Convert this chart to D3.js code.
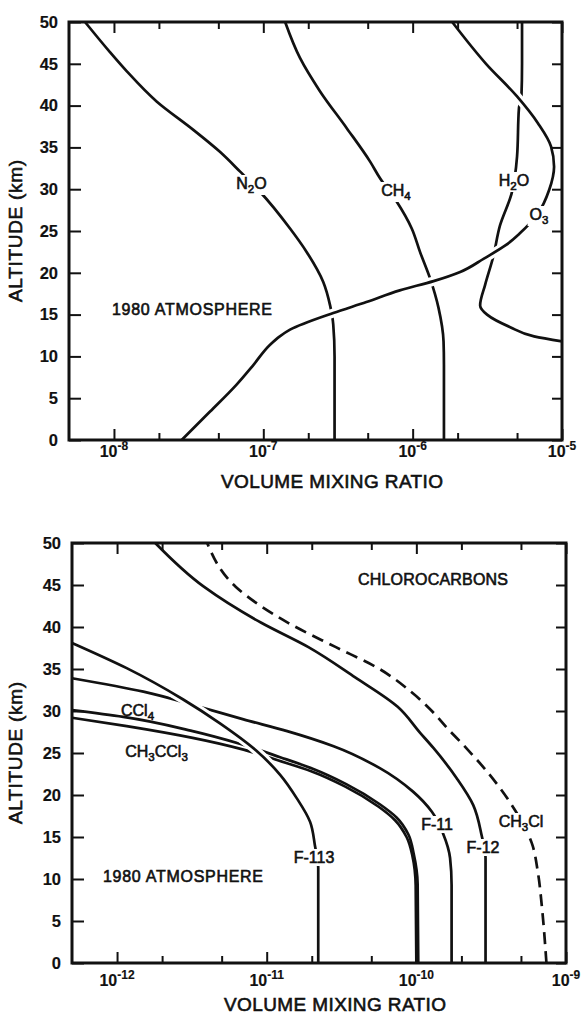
<!DOCTYPE html>
<html>
<head>
<meta charset="utf-8">
<script src="https://cdn.jsdelivr.net/npm/d3@7"></script>
<style>
  body { margin: 0; background: #fff; }
  svg text { font-family: "Liberation Sans", Arial, sans-serif; fill: #111; stroke: #111; stroke-width: 0.6; }
  svg .tick text, svg .xl { font-weight: bold; stroke-width: 0.15; }
</style>
</head>
<body>
<svg id="chart" width="584" height="1015"></svg>
<script>
// altitude ticks (km) and log tick positions
const altTicks = [0, 5, 10, 15, 20, 25, 30, 35, 40, 45, 50]
const topMajor = [1e-8, 1e-7, 1e-6, 1e-5]
const topMinor = [2e-8, 5e-8, 2e-7, 5e-7, 2e-6, 5e-6]
const botMajor = [1e-12, 1e-11, 1e-10, 1e-9]
const botMinor = [2e-12, 5e-12, 2e-11, 5e-11, 2e-10, 5e-10]

// profiles, [altitude km, volume mixing ratio]
const n2o = [[0, 3.0e-7], [10, 3.0e-7], [13.8, 2.94e-7], [16.1, 2.8e-7], [18.9, 2.52e-7], [22.5, 1.95e-7],
  [25.3, 1.51e-7], [29.7, 9.5e-8], [32.1, 7.0e-8], [34.5, 5.1e-8], [37.1, 3.4e-8], [40.5, 1.93e-8],
  [44.1, 1.22e-8], [46.4, 9.4e-9], [50, 6.4e-9]]
const ch4 = [[0, 1.62e-6], [9, 1.62e-6], [11.8, 1.61e-6], [15.8, 1.49e-6], [19.3, 1.31e-6], [22.5, 1.12e-6],
  [25.3, 9.86e-7], [28.5, 7.83e-7], [31.3, 6.05e-7], [33.3, 5.19e-7], [37.3, 3.62e-7], [41.7, 2.4e-7],
  [45.7, 1.76e-7], [50, 1.4e-7]]
const h2o = [[11.8, 1.0e-5], [12.4, 6.5e-6], [13.5, 4.5e-6], [15, 3.15e-6], [16.1, 2.83e-6], [18.5, 3.05e-6],
  [21.8, 3.45e-6], [25.7, 3.85e-6], [29.5, 4.6e-6], [33.9, 5.0e-6], [39.7, 5.15e-6], [41, 5.35e-6],
  [45, 5.4e-6], [50, 5.4e-6]]
const o3 = [[0, 2.84e-8], [3.4, 4.4e-8], [6.6, 6.6e-8], [9, 8.6e-8], [11.4, 1.11e-7], [12.4, 1.29e-7],
  [13.2, 1.51e-7], [15.2, 2.94e-7], [16.5, 4.9e-7], [17.9, 8.2e-7], [19, 1.38e-6], [20.1, 2.08e-6],
  [21.7, 3.0e-6], [23.3, 4.2e-6], [24.7, 5.2e-6], [27.1, 6.9e-6], [29.9, 8.2e-6], [32.7, 8.85e-6],
  [35.1, 8.45e-6], [37.9, 6.9e-6], [41.1, 5.0e-6], [45, 3.1e-6], [50, 1.84e-6]]

const f12 = [[0, 2.9e-10], [12.5, 2.9e-10], [15.2, 2.73e-10], [18.8, 2.4e-10], [22, 1.86e-10], [25.6, 1.3e-10],
  [27.4, 1.06e-10], [30.5, 7.5e-11], [34, 3.9e-11], [37.6, 1.9e-11], [40.5, 9.2e-12], [44.8, 3.8e-12],
  [50, 1.8e-12]]
const ch3cl = [[0, 7.4e-10], [6.7, 6.9e-10], [10.7, 6.5e-10], [14.3, 5.9e-10], [17, 5.0e-10], [19.2, 4.2e-10],
  [22.5, 3.06e-10], [26, 2.05e-10], [28, 1.6e-10], [30, 1.27e-10], [32.3, 9.2e-11], [35.1, 5.55e-11],
  [37.6, 2.9e-11], [40.5, 1.39e-11], [44.8, 6.2e-12], [50, 4.0e-12]]
const f11 = [[0, 1.72e-10], [9.3, 1.72e-10], [12.5, 1.68e-10], [15.4, 1.51e-10], [18, 1.27e-10], [20.4, 9.5e-11],
  [23.2, 5.7e-11], [25.8, 2.8e-11], [27.6, 1.37e-11], [29, 7.0e-12], [30.6, 3.4e-12], [32.3, 1.5e-12],
  [33.9, 5.0e-13]]
const f113 = [[0, 2.21e-11], [11.3, 2.21e-11], [14, 2.1e-11], [16.8, 1.95e-11], [19.6, 1.59e-11], [22.4, 1.23e-11],
  [25.3, 8.5e-12], [28.5, 4.9e-12], [31.4, 2.75e-12], [35.1, 1.16e-12], [38.1, 5.0e-13]]
const ccl4 = [[0, 1.03e-10], [9.4, 1.02e-10], [13, 9.6e-11], [15.3, 8.85e-11], [17.3, 7.4e-11], [18.9, 5.7e-11],
  [21.3, 3.4e-11], [23.1, 2.05e-11], [24.5, 1.23e-11], [26.1, 6.6e-12], [27.6, 3.2e-12], [29.3, 1.1e-12],
  [30.1, 5.0e-13]]
const ch3ccl3 = [[0, 1.0e-10], [9.2, 9.9e-11], [12.8, 9.4e-11], [15, 8.6e-11], [17, 7.2e-11], [18.6, 5.6e-11],
  [21, 3.35e-11], [22.8, 2.0e-11], [24.1, 1.2e-11], [25.4, 7.0e-12], [26.8, 3.2e-12], [28.2, 1.16e-12],
  [29.2, 5.0e-13]]

const svg = d3.select('#chart')
const ink = '#111'

// write "CH_4" style strings, _n is a subscript digit
function chem(text, str, size) {
  let down = false
  str.split(/(_\d)/).filter(s => s).forEach(p => {
    if (p[0] === '_') {
      text.append('tspan').attr('dy', 4).attr('font-size', size * 0.72).text(p.slice(1))
      down = true
    } else {
      text.append('tspan').attr('dy', down ? -4 : 0).text(p)
      down = false
    }
  })
}

function panel({ x, y, major, minor, curves, over, labels, notes, title }) {
  const g = svg.append('g')
  const line = d3.line()
    .x(d => x(d[1]))
    .y(d => y(d[0]))
    .curve(d3.curveMonotoneY)

  g.selectAll('.curve')
    .data(curves)
    .join('path')
    .attr('class', 'curve')
    .attr('d', d => line(d.data))
    .attr('fill', 'none')
    .attr('stroke', ink)
    .attr('stroke-width', 2.7)
    .attr('stroke-dasharray', d => d.dash || null)

  // the crossing curve breaks the lines under it
  g.append('path').attr('d', line(over)).attr('fill', 'none').attr('stroke', '#fff').attr('stroke-width', 9)
  g.append('path').attr('d', line(over)).attr('fill', 'none').attr('stroke', ink).attr('stroke-width', 2.7)

  labels.forEach(l => {
    const lg = g.append('g')
    const r = lg.append('rect').attr('fill', '#fff')
    const t = lg.append('text')
      .attr('x', l.x).attr('y', l.y)
      .attr('text-anchor', 'middle')
      .attr('font-size', 16)
    chem(t, l.text, 16)
    if (l.cut) {
      const bb = t.node().getBBox()
      r.attr('x', bb.x - 2).attr('y', bb.y).attr('width', bb.width + 4).attr('height', bb.height)
    }
  })

  notes.forEach(n => {
    g.append('text')
      .attr('x', n.x).attr('y', n.y)
      .attr('font-size', 16)
      .attr('textLength', n.w)
      .text(n.text)
  })

  const [x0, x1] = x.range()
  const [y0, y1] = y.range()

  // ticks, all pointing into the frame
  g.append('g').attr('transform', `translate(0,${y0})`)
    .call(d3.axisBottom(x).tickValues(major).tickSize(-11).tickFormat(''))
  g.append('g').attr('transform', `translate(0,${y0})`)
    .call(d3.axisBottom(x).tickValues(minor).tickSize(-7).tickFormat(''))
  g.append('g').attr('transform', `translate(0,${y1})`)
    .call(d3.axisTop(x).tickValues(major).tickSize(-11).tickFormat(''))
  g.append('g').attr('transform', `translate(0,${y1})`)
    .call(d3.axisTop(x).tickValues(minor).tickSize(-7).tickFormat(''))
  g.append('g').attr('transform', `translate(${x1},0)`)
    .call(d3.axisRight(y).tickValues(altTicks).tickSize(-10).tickFormat(''))
  const yl = g.append('g').attr('transform', `translate(${x0},0)`)
    .call(d3.axisLeft(y).tickValues(altTicks).tickSize(-12).tickPadding(11))
  yl.selectAll('text').attr('font-size', 16.5).attr('fill', ink).style('font-family', null)

  g.selectAll('.domain').remove()
  g.selectAll('.tick line').attr('stroke', ink).attr('stroke-width', 2)

  g.append('rect')
    .attr('x', x0).attr('y', y1)
    .attr('width', x1 - x0).attr('height', y0 - y1)
    .attr('fill', 'none').attr('stroke', ink).attr('stroke-width', 3)

  // x tick labels 10^n
  g.selectAll('.xl')
    .data(major)
    .join('text')
    .attr('class', 'xl')
    .attr('x', d => x(d))
    .attr('y', y0 + title.dy)
    .attr('text-anchor', 'middle')
    .attr('font-size', 16)
    .each(function(d) {
      const t = d3.select(this)
      t.append('tspan').text('10')
      t.append('tspan').attr('dy', -7).attr('font-size', 12).text(Math.round(Math.log10(d)))
    })

  g.append('text')
    .attr('x', title.x).attr('y', title.y)
    .attr('text-anchor', 'middle')
    .attr('font-size', 19)
    .attr('textLength', 222)
    .text('VOLUME MIXING RATIO')

  g.append('text')
    .attr('transform', `translate(15,${(y0 + y1) / 2}) rotate(-90)`)
    .attr('text-anchor', 'middle')
    .attr('dominant-baseline', 'central')
    .attr('font-size', 19)
    .attr('textLength', 142)
    .text('ALTITUDE (km)')
}

panel({
  x: d3.scaleLog().domain([5e-9, 1e-5]).range([69, 562]),
  y: d3.scaleLinear().domain([0, 50]).range([440, 22]),
  major: topMajor,
  minor: topMinor,
  curves: [{ data: n2o }, { data: ch4 }, { data: h2o }],
  over: o3,
  labels: [
    { text: 'N_2O', x: 251.5, y: 189, cut: true },
    { text: 'CH_4', x: 396, y: 196, cut: true },
    { text: 'H_2O', x: 514, y: 186, cut: true },
    { text: 'O_3', x: 539, y: 220, cut: true }
  ],
  notes: [{ text: '1980 ATMOSPHERE', x: 112, y: 315, w: 160 }],
  title: { x: 332, y: 488, dy: 17 }
})

panel({
  x: d3.scaleLog().domain([5e-13, 1e-9]).range([72, 566]),
  y: d3.scaleLinear().domain([0, 50]).range([963, 543]),
  major: botMajor,
  minor: botMinor,
  curves: [
    { data: f12 }, { data: ch3cl, dash: '12,7' }, { data: f11 },
    { data: ccl4 }, { data: ch3ccl3 }
  ],
  over: f113,
  labels: [
    { text: 'CCl_4', x: 137.5, y: 716, cut: false },
    { text: 'CH_3CCl_3', x: 156.5, y: 757, cut: false },
    { text: 'F-113', x: 314, y: 863, cut: true },
    { text: 'F-11', x: 437, y: 830, cut: true },
    { text: 'F-12', x: 483, y: 853, cut: true },
    { text: 'CH_3Cl', x: 521, y: 827, cut: true }
  ],
  notes: [
    { text: '1980 ATMOSPHERE', x: 103, y: 882, w: 160 },
    { text: 'CHLOROCARBONS', x: 358, y: 585, w: 150 }
  ],
  title: { x: 335, y: 1011, dy: 23 }
})
</script>
</body>
</html>
